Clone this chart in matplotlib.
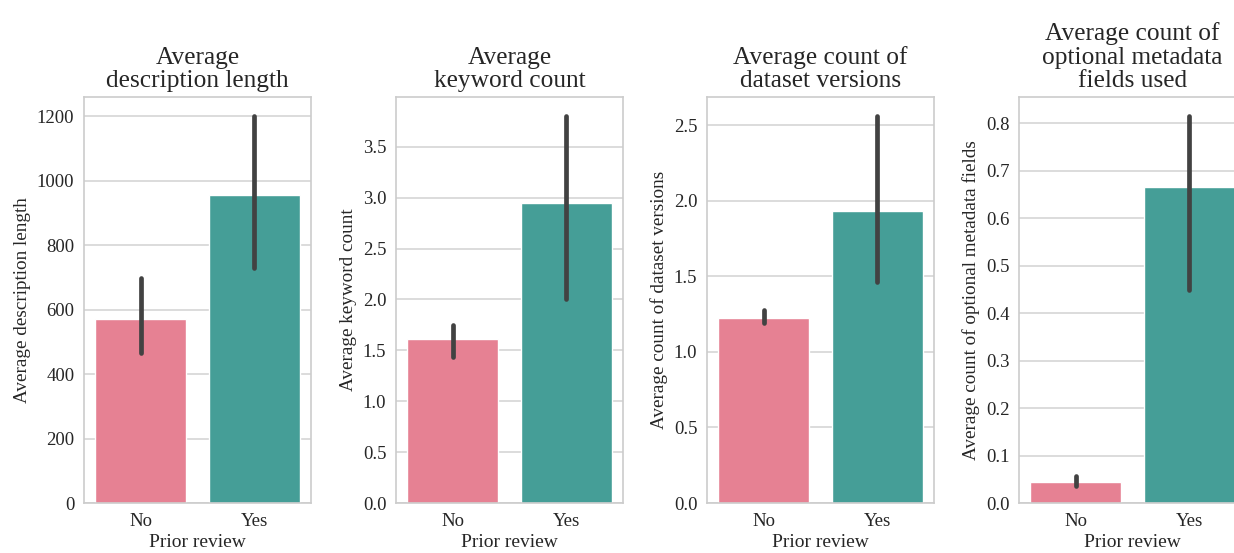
import matplotlib
matplotlib.use("Agg")
import matplotlib.pyplot as plt
import seaborn as sns
import numpy as np

sns.set_style("whitegrid")
plt.rcParams['font.family'] = ['Liberation Serif', 'DejaVu Serif']

categories = ["No", "Yes"]
titles = ["Average\ndescription length", "Average\nkeyword count",
          "Average count of\ndataset versions", "Average count of\noptional metadata\nfields used"]
ylabels = ["Average description length", "Average keyword count",
           "Average count of dataset versions", "Average count of optional metadata fields"]
means = [[570, 955], [1.61, 2.95], [1.225, 1.93], [0.044, 0.665]]
ci_low = [[465, 728], [1.43, 2.00], [1.19, 1.46], [0.035, 0.448]]
ci_high = [[697, 1200], [1.75, 3.80], [1.275, 2.56], [0.057, 0.815]]
yticks = [np.arange(0, 1201, 200), np.arange(0, 3.6, 0.5), np.arange(0, 2.6, 0.5), np.arange(0, 0.81, 0.1)]
ytickfmt = ["{:.0f}", "{:.1f}", "{:.1f}", "{:.1f}"]

pal = sns.color_palette("husl", 2, desat=0.75)

W, H = 1234, 553
fig = plt.figure(figsize=(W / 100, H / 100), dpi=100)
lefts = [84, 396, 707, 1019]
aw = 227
top, bottom = 97, 503
for i in range(4):
    ax = fig.add_axes([lefts[i] / W, 1 - bottom / H, aw / W, (bottom - top) / H])
    x = np.arange(2)
    ax.bar(x, means[i], width=0.8, color=pal, zorder=2)
    for j in range(2):
        ax.plot([x[j], x[j]], [ci_low[i][j], ci_high[i][j]], color="#424242",
                lw=3.4, solid_capstyle="round", zorder=3)
    ax.set_xlim(-0.5, 1.5)
    ax.set_ylim(0, ci_high[i][1] * 1.05)
    ax.set_yticks(yticks[i])
    ax.set_yticklabels([ytickfmt[i].format(v) for v in yticks[i]])
    ax.set_xticks(x)
    ax.set_xticklabels(categories)
    ax.grid(False, axis="x")
    ax.grid(True, axis="y", color="#d5d5d5", lw=1.2)
    ax.set_axisbelow(True)
    for s in ax.spines.values():
        s.set_color("#cccccc")
        s.set_linewidth(1.2)
    ax.tick_params(labelsize=13.5, colors="#262626", length=0, pad=7)
    ax.set_xlabel("Prior review", fontsize=14, color="#262626", labelpad=3)
    ax.set_ylabel(ylabels[i], fontsize=13.8, color="#262626", labelpad=4)
    ax.set_title(titles[i], fontsize=18.3, color="#262626", linespacing=1.1, pad=7)

fig.savefig("out.png", dpi=100)
